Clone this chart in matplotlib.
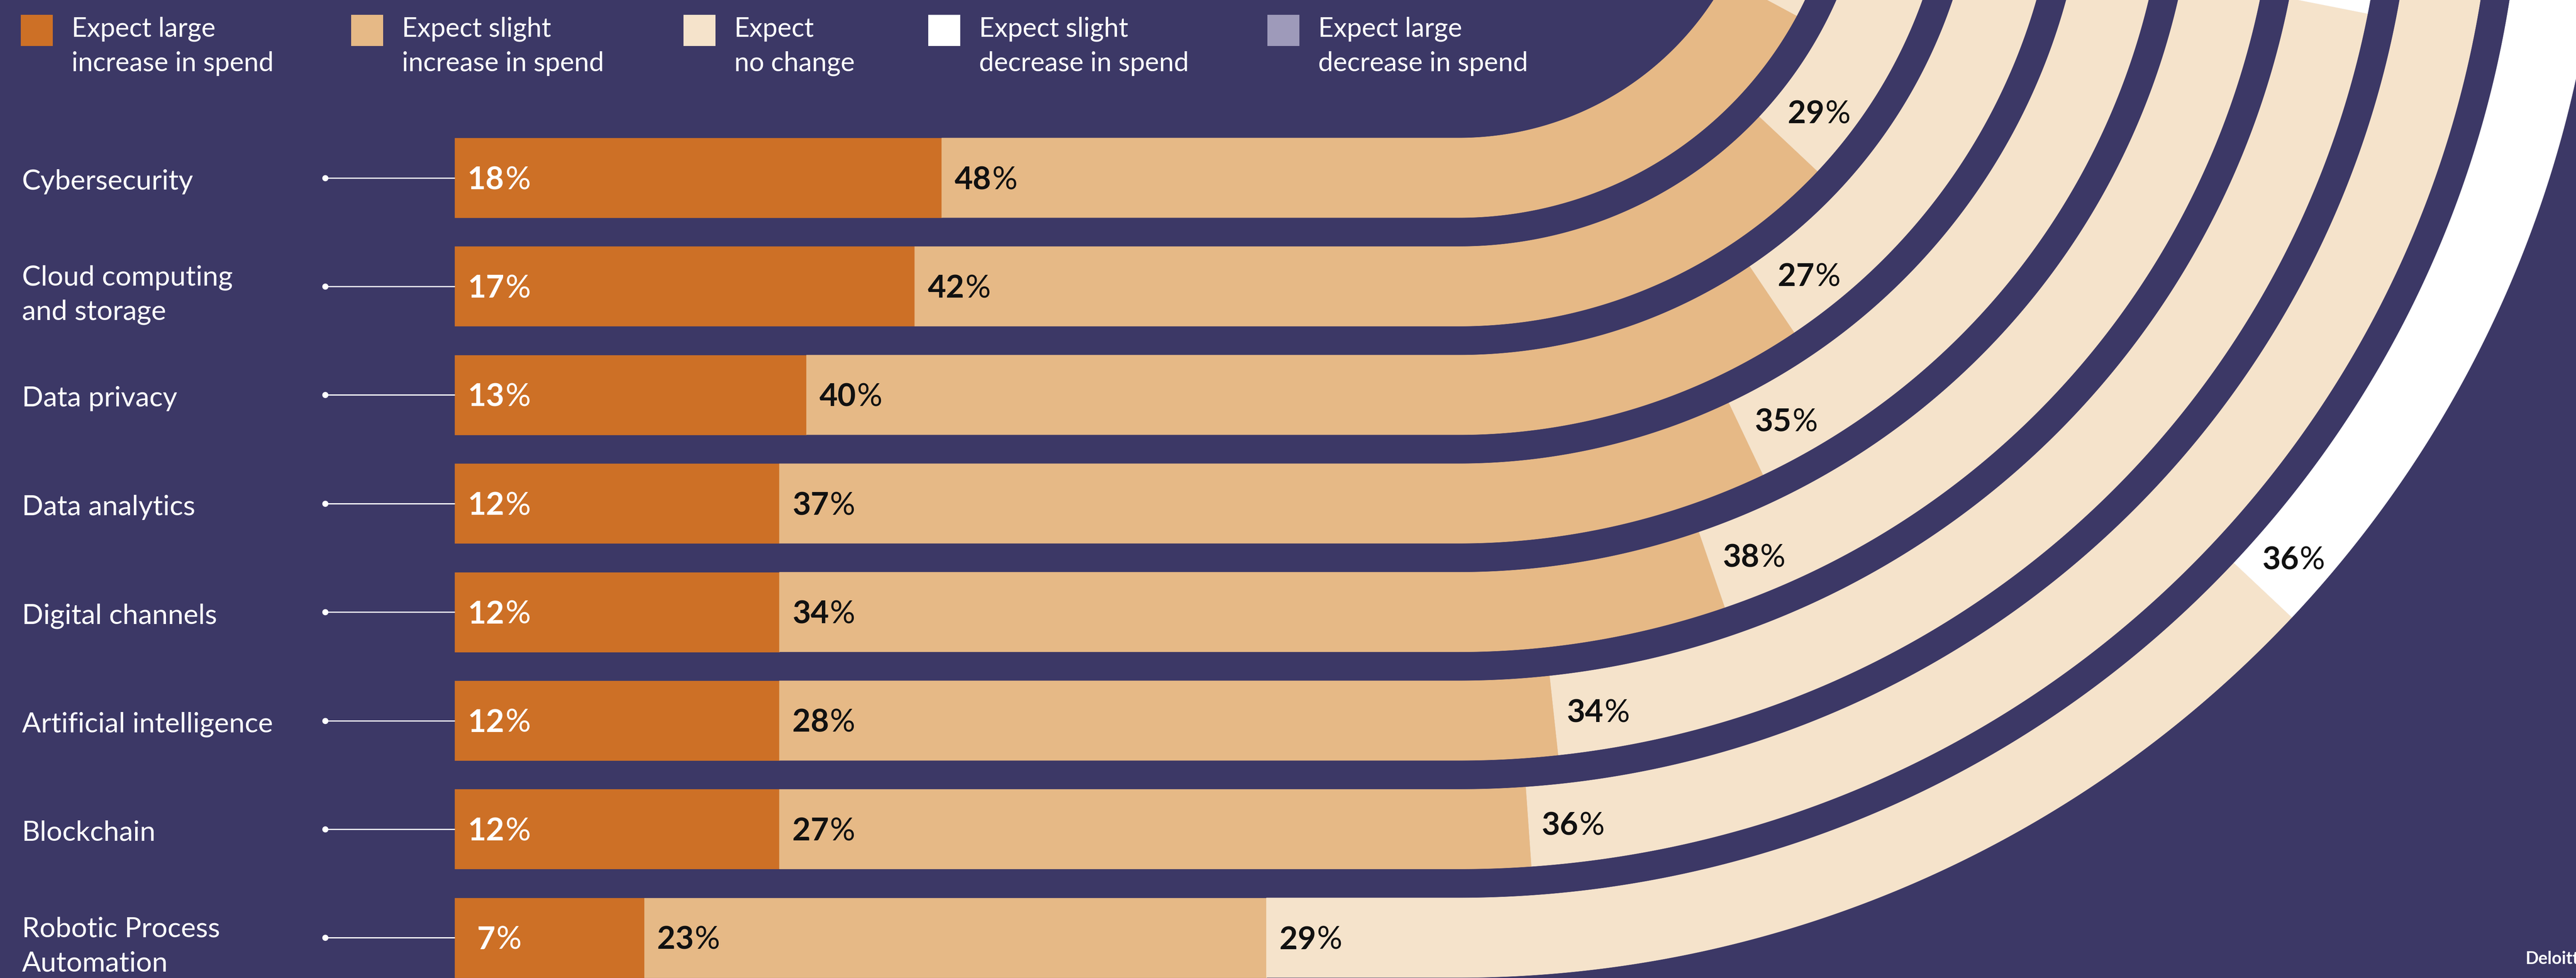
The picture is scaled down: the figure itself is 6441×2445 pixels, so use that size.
import numpy as np
import matplotlib
matplotlib.use("Agg")
import matplotlib.pyplot as plt
from matplotlib.patches import Polygon, Rectangle

# ---------------- data ----------------
categories = ["Cybersecurity", "Cloud computing\nand storage", "Data privacy", "Data analytics",
              "Digital channels", "Artificial intelligence", "Blockchain",
              "Robotic Process\nAutomation"]
large_increase = [18, 17, 13, 12, 12, 12, 12, 7]
slight_increase = [48, 42, 40, 37, 34, 28, 27, 23]
no_change = [27, 29, 27, 35, 38, 34, 36, 29]
slight_decrease = [5, 8, 13, 12, 12, 20, 20, 36]
large_decrease = [2, 4, 7, 4, 4, 6, 5, 5]

series_names = ["Expect large\nincrease in spend", "Expect slight\nincrease in spend",
                "Expect\nno change", "Expect slight\ndecrease in spend",
                "Expect large\ndecrease in spend"]

# ---------------- style ----------------
BG = "#3C3866"
series_colors = ["#CD7026", "#E6B986", "#F5E3CB", "#FFFFFF", "#9E9ABA"]
label_colors = ["white", "#111111", "#111111", "#111111", "#111111"]
plt.rcParams['font.family'] = ['Lato', 'DejaVu Sans']

W, H, DPI = 6441, 2445, 100
fig = plt.figure(figsize=(W / DPI, H / DPI), dpi=DPI, facecolor=BG)
ax = fig.add_axes([0, 0, 1, 1])
ax.set_xlim(0, W)
ax.set_ylim(H, 0)
ax.axis('off')
ax.set_facecolor(BG)

# ---------------- layout (pixel space) ----------------
X0 = 1137.0            # bar start
PX_PER_PCT = 67.65     # straight-part scale
ROW_TOP0, ROW_PITCH, BAR_H = 345.0, 271.4, 199.0
CX, CY = 3648.0, -415.0  # arc centre
STRAIGHT = (CX - X0) / PX_PER_PCT
RAD_PER_PCT = 0.0373
LABEL_OFF = 110.0
LABEL_PT = 57
CAT_PT = 50.5
LEG_PT = 48


def track_xy(p, r):
    p = np.atleast_1d(np.asarray(p, float))
    d = p - STRAIGHT
    th = np.clip(d, 0, None) * RAD_PER_PCT
    x = np.where(d <= 0, X0 + p * PX_PER_PCT, CX + r * np.sin(th))
    y = np.where(d <= 0, CY + r, CY + r * np.cos(th))
    return x, y


def seg_poly(p0, p1, r_in, r_out):
    ps = np.linspace(p0, p1, 300)
    if p0 < STRAIGHT < p1:
        ps = np.sort(np.append(ps, STRAIGHT))
    xo, yo = track_xy(ps, r_out)
    xi, yi = track_xy(ps[::-1], r_in)
    return np.column_stack([np.concatenate([xo, xi]), np.concatenate([yo, yi])])


series = [large_increase, slight_increase, no_change, slight_decrease, large_decrease]
labels = []
for i, cat in enumerate(categories):
    top = ROW_TOP0 + i * ROW_PITCH
    r_in = top - CY
    r_out = top + BAR_H - CY
    r_mid = 0.5 * (r_in + r_out)
    yc = top + BAR_H / 2
    start = 0.0
    for s, vals in enumerate(series):
        v = vals[i]
        poly = seg_poly(start, start + v, r_in, r_out)
        ax.add_patch(Polygon(poly, closed=True, facecolor=series_colors[s],
                             edgecolor=series_colors[s], lw=0.6, zorder=2))
        bx, by = track_xy(start, r_mid)
        th = max(start - STRAIGHT, 0) * RAD_PER_PCT
        lx = bx[0] + LABEL_OFF * np.cos(th)
        ly = by[0] - LABEL_OFF * np.sin(th)
        base = ly + 0.36 * LABEL_PT * DPI / 72
        tn = ax.text(lx, base, f"{v}", fontsize=LABEL_PT, weight='bold',
                     color=label_colors[s], ha='left', va='baseline', zorder=5)
        tp = ax.text(lx, base, "%", fontsize=LABEL_PT, weight='normal',
                     color=label_colors[s], ha='left', va='baseline', zorder=5)
        labels.append((tn, tp, lx))
        start += v

    # connector + category label
    ax.plot([813, X0], [yc, yc], color='white', lw=2.2, zorder=3, solid_capstyle='butt')
    ax.plot([813], [yc], 'o', color='white', ms=10, zorder=3)
    lines = cat.split("\n")
    first = yc + 29 if len(lines) == 1 else yc - 2
    for j, ln in enumerate(lines):
        ax.text(55, first + j * 86, ln, fontsize=CAT_PT, color='white',
                ha='left', va='baseline')

# legend
leg_sw_x = [52, 878, 1709, 2321, 3169]
for k, name in enumerate(series_names):
    ax.add_patch(Rectangle((leg_sw_x[k], 37), 80, 78, facecolor=series_colors[k],
                           edgecolor='none', zorder=4))
    for j, ln in enumerate(name.split("\n")):
        ax.text(leg_sw_x[k] + 127, 92 + j * 86, ln, fontsize=LEG_PT, color='white',
                ha='left', va='baseline')

ax.text(6315, 2410, "Deloitte.", fontsize=31, weight='bold', color='white',
        ha='left', va='baseline', clip_on=True)

# centre the two-part percentage labels; drop those that fall outside the picture
fig.canvas.draw()
rend = fig.canvas.get_renderer()
for tn, tp, lx in labels:
    wn = tn.get_window_extent(rend).width
    wp = tp.get_window_extent(rend).width
    left = lx - (wn + wp) / 2
    tn.set_x(left)
    tp.set_x(left + wn + 2)
fig.canvas.draw()
for tn, tp, lx in labels:
    for t in (tn, tp):
        bb = t.get_window_extent(rend)
        if bb.x0 < 0 or bb.y0 < 0 or bb.x1 > W or bb.y1 > H:
            tn.remove()
            tp.remove()
            break

fig.savefig("out.png", dpi=DPI, facecolor=BG)
